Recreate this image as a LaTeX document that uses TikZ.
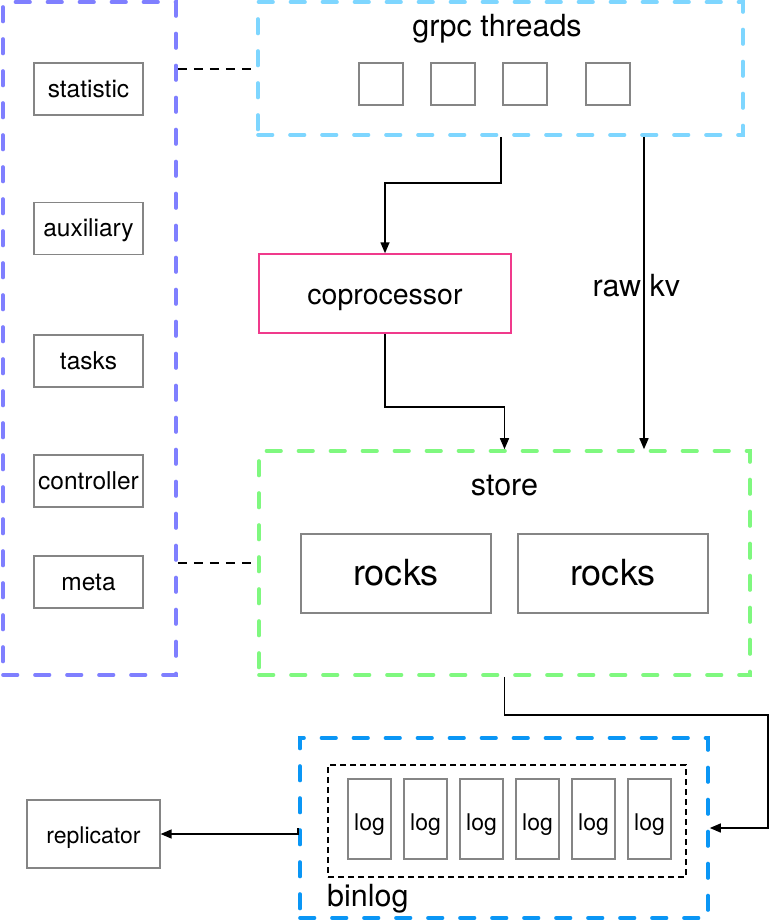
\documentclass[tikz,border=0pt]{standalone}
\usepackage{fontspec}
\setmainfont{TeX Gyre Heros}
\usetikzlibrary{arrows.meta,calc}
\definecolor{cpurple}{HTML}{7F7FFF}
\definecolor{clblue}{HTML}{7ED6FF}
\definecolor{cgreen}{HTML}{7FF87F}
\definecolor{cblue}{HTML}{0A96F5}
\definecolor{cpink}{HTML}{F03A8C}
\definecolor{cgrey}{HTML}{858585}
\tikzset{
  frame/.style={draw=#1, line width=3.6pt, dash pattern=on 14.5pt off 17.5pt, line cap=round, inner sep=0pt},
  gbox/.style={draw=cgrey, line width=1.2pt, inner sep=0pt},
  dline/.style={line width=1.5pt, dash pattern=on 9pt off 7pt},
  arr/.style={line width=1.5pt, -{Triangle[length=11pt,width=9pt]}},
  f24/.style={font=\fontsize{24.5}{28}\selectfont, text height=22.6pt, text depth=6pt},
  f28/.style={font=\fontsize{28.5}{32}\selectfont, text height=28pt, text depth=7pt},
  f36/.style={font=\fontsize{36}{40}\selectfont, text height=32.4pt, text depth=8pt},
  flog/.style={font=\fontsize{23}{26}\selectfont, text height=29.4pt, text depth=6pt},
  frepl/.style={font=\fontsize{23}{26}\selectfont, text height=24.6pt, text depth=6pt},
  f30/.style={font=\fontsize{30.5}{34}\selectfont, inner sep=0pt, anchor=base},
}
\begin{document}
\begin{tikzpicture}[x=1pt,y=-1pt]
\useasboundingbox (0,0) rectangle (771,921);
% frames
\node[frame=cpurple, minimum width=173pt, minimum height=673pt] (left) at (89.5,338.5) {};
\node[frame=clblue, minimum width=485pt, minimum height=133pt] (grpc) at (500.5,68.5) {};
\node[frame=cgreen, minimum width=491pt, minimum height=224pt] (store) at (504.5,563) {};
\node[frame=cblue, minimum width=408pt, minimum height=180pt] (binlog) at (504,828) {};
\node[draw, line width=1.4pt, dash pattern=on 6pt off 4pt, minimum width=358pt, minimum height=112pt, inner sep=0pt] (inner) at (507,821) {};
% left column
\foreach \n/\t/\y in {stat/statistic/89, aux/auxiliary/228.5, tasks/tasks/361, ctrl/controller/481, meta/meta/582}
  \node[gbox, f24, minimum width=109pt, minimum height=52pt] (\n) at (88.5,\y) {\t};
% grpc
\node[f30] (grpctitle) at (497,36) {grpc threads};
\foreach \n/\x in {t1/381, t2/453, t3/525, t4/608}
  \node[gbox, minimum width=44pt, minimum height=42pt] (\n) at (\x,84) {};
% coprocessor
\node[draw=cpink, line width=1.5pt, f28, minimum width=252pt, minimum height=79pt, inner sep=0pt] (cop) at (385,293.5) {coprocessor};
% store
\node[f30] (storetitle) at (504.5,495) {store};
\node[gbox, f36, minimum width=190pt, minimum height=79pt] (r1) at (396,573.5) {rocks};
\node[gbox, f36, minimum width=190pt, minimum height=79pt] (r2) at (613,573.5) {rocks};
% logs
\foreach \n/\x in {l1/369.5, l2/425.5, l3/481.5, l4/537.5, l5/593.5, l6/649.5}
  \node[gbox, flog, minimum width=43pt, minimum height=80pt] (\n) at (\x,819) {log};
\node[f30, anchor=base west] (binlogtitle) at (327,906.7) {binlog};
% replicator
\node[gbox, frepl, minimum width=133pt, minimum height=68pt] (repl) at (93.5,834) {replicator};
% raw kv label
\node[f30] (rawkv) at (636.3,296.7) {raw kv};
% connectors
\draw[dline] (left.east |- 0,69) -- (grpc.west |- 0,69);
\draw[dline] (left.east |- 0,563) -- (store.west |- 0,563);
\draw[arr] (grpc.south -| 501,0) -- ++(0,46) -| (cop.north);
\draw[arr] (cop.south) -- ++(0,73) -| (store.north);
\draw[arr] (grpc.south -| 644,0) -- (store.north -| 644,0);
\coordinate (c1) at (768,715);
\draw[arr] (store.south) |- (c1) |- (binlog.east |- 0,828);
\draw[arr] (binlog.west) |- (repl.east);
\end{tikzpicture}
\end{document}
